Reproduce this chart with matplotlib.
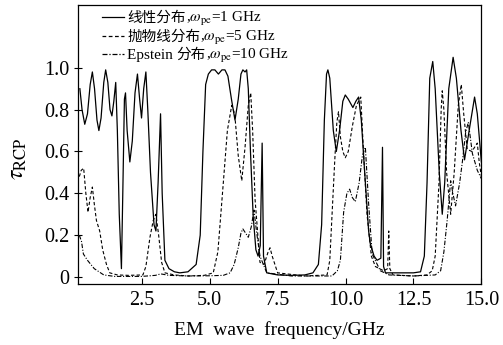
import matplotlib
matplotlib.use("Agg")
import matplotlib.pyplot as plt
from matplotlib.lines import Line2D
from matplotlib.offsetbox import (AnchoredOffsetbox, DrawingArea, HPacker,
                                  TextArea, VPacker)
from matplotlib.ticker import FixedLocator, FuncFormatter

plt.rcParams['font.family'] = ['Liberation Serif', 'Noto Sans CJK SC']
plt.rcParams['mathtext.fontset'] = 'stix'

# linear profile, w_pe = 1 GHz
lin_f = [0.22, 0.30, 0.40, 0.50, 0.60, 0.68, 0.76, 0.85, 0.92, 1.00, 1.10, 1.17,
         1.25, 1.33, 1.40, 1.47, 1.54, 1.60, 1.67, 1.75, 1.80, 1.86, 1.90, 1.96,
         2.06, 2.15, 2.25, 2.34, 2.42, 2.49, 2.57, 2.65, 2.72, 2.82, 2.95, 3.02,
         3.10, 3.19, 3.25, 3.35, 3.50, 3.70, 3.90, 4.20, 4.50, 4.65, 4.75, 4.85,
         4.95, 5.07, 5.19, 5.32, 5.45, 5.56, 5.67, 5.80, 5.93, 6.05, 6.15, 6.22,
         6.30, 6.36, 6.42, 6.50, 6.60, 6.70, 6.78, 6.86, 6.93, 6.98, 7.10, 7.50,
         8.00, 8.50, 8.80, 9.00, 9.12, 9.22, 9.30, 9.35, 9.42, 9.55, 9.66, 9.78,
         9.90, 9.99, 10.10, 10.27, 10.38, 10.48, 10.58, 10.73, 10.85, 10.91, 11.05,
         11.16, 11.30, 11.36, 11.40, 11.47, 12.00, 12.50, 12.76, 12.90, 13.00,
         13.10, 13.21, 13.30, 13.45, 13.56, 13.65, 13.80, 13.96, 14.08, 14.25,
         14.38, 14.55, 14.75, 14.85, 15.00]
lin_t = [0.90, 0.80, 0.73, 0.78, 0.92, 0.98, 0.90, 0.75, 0.70, 0.76, 0.93, 0.99,
         0.93, 0.80, 0.77, 0.84, 0.93, 0.70, 0.30, 0.04, 0.40, 0.85, 0.88, 0.70,
         0.55, 0.65, 0.88, 0.97, 0.85, 0.76, 0.90, 0.98, 0.80, 0.50, 0.25, 0.22,
         0.45, 0.78, 0.40, 0.08, 0.04, 0.025, 0.02, 0.025, 0.06, 0.20, 0.60, 0.92,
         0.97, 0.99, 0.99, 0.97, 0.99, 0.99, 0.96, 0.85, 0.75, 0.85, 0.97, 0.99,
         0.98, 0.99, 0.90, 0.60, 0.29, 0.13, 0.10, 0.15, 0.64, 0.10, 0.02, 0.01,
         0.008, 0.01, 0.02, 0.06, 0.25, 0.75, 0.97, 0.99, 0.95, 0.70, 0.60, 0.70,
         0.84, 0.87, 0.85, 0.81, 0.84, 0.86, 0.75, 0.45, 0.22, 0.16, 0.10,
         0.08, 0.09, 0.62, 0.05, 0.02, 0.02, 0.02, 0.025, 0.10, 0.45,
         0.95, 1.03, 0.90, 0.50, 0.30, 0.45, 0.90, 1.05, 0.95, 0.70,
         0.56, 0.70, 0.86, 0.78, 0.55]

# parabolic profile, w_pe = 5 GHz
par_f = [0.20, 0.27, 0.36, 0.44, 0.52, 0.60, 0.68, 0.75, 0.83, 0.95, 1.06, 1.20,
         1.32, 1.60, 2.00, 2.54, 2.65, 2.80, 2.92, 3.02, 3.12, 3.23, 3.35, 3.70,
         4.20, 4.80, 5.13, 5.30, 5.50, 5.65, 5.81, 5.92, 6.05, 6.18, 6.30, 6.42,
         6.51, 6.58, 6.67, 6.85, 7.00, 7.15, 7.22, 7.30, 7.50, 8.50, 9.32,
         9.42, 9.50, 9.60, 9.68, 9.74, 9.81, 9.90, 9.99, 10.10, 10.25, 10.40,
         10.48, 10.56, 10.66, 10.79, 10.95, 11.10, 11.40, 11.55, 11.59, 11.63,
         11.75, 12.50, 13.00, 13.19, 13.30, 13.44, 13.52, 13.56, 13.62, 13.72,
         13.87, 14.00, 14.15, 14.26, 14.35, 14.48, 14.65, 14.85, 14.92, 15.00]
par_t = [0.48, 0.51, 0.52, 0.40, 0.31, 0.38, 0.43, 0.35, 0.27, 0.22, 0.13, 0.06,
         0.02, 0.01, 0.008, 0.01, 0.05, 0.19, 0.27, 0.30, 0.20, 0.07, 0.02, 0.01,
         0.005, 0.008, 0.02, 0.12, 0.45, 0.70, 0.82, 0.78, 0.58, 0.46, 0.62, 0.82,
         0.88, 0.70, 0.37, 0.07, 0.06, 0.12, 0.14, 0.10, 0.02, 0.005, 0.01,
         0.08, 0.29, 0.55, 0.74, 0.79, 0.67, 0.60, 0.57, 0.60, 0.72, 0.82,
         0.84, 0.86, 0.60, 0.30, 0.10, 0.05, 0.03, 0.04, 0.22, 0.04,
         0.01, 0.005, 0.01, 0.03, 0.10, 0.45, 0.80, 0.89, 0.80, 0.50,
         0.30, 0.50, 0.82, 0.92, 0.78, 0.61, 0.60, 0.64, 0.55, 0.48]

# Epstein profile, w_pe = 10 GHz
eps_f = [0.20, 0.28, 0.35, 0.50, 0.75, 1.10, 1.50, 2.50, 3.00, 3.20, 3.50, 4.20,
         5.00, 5.50, 5.75, 5.90, 6.05, 6.15, 6.22, 6.32, 6.42, 6.53, 6.63, 6.72,
         6.85, 7.10, 8.00, 9.00, 9.50, 9.70, 9.81, 9.93, 10.05, 10.15, 10.25,
         10.36, 10.50, 10.62, 10.73, 10.85, 10.98, 11.28, 11.60, 12.50, 13.30,
         13.50, 13.62, 13.74, 13.87, 13.95, 14.05, 14.20, 14.30, 14.42, 14.52,
         14.67, 14.85, 15.00]
eps_t = [0.20, 0.17, 0.11, 0.08, 0.04, 0.01, 0.003, 0.003, 0.008, 0.015, 0.008,
         0.005, 0.006, 0.008, 0.02, 0.06, 0.14, 0.21, 0.23, 0.21, 0.19, 0.24,
         0.32, 0.22, 0.10, 0.02, 0.005, 0.005, 0.005, 0.03, 0.08, 0.31, 0.40,
         0.42, 0.38, 0.36, 0.45, 0.58, 0.62, 0.35, 0.11, 0.03, 0.01, 0.005,
         0.01, 0.03, 0.12, 0.27, 0.46, 0.40, 0.34, 0.45, 0.55, 0.69, 0.74,
         0.59, 0.51, 0.47]

xticks = [2.5, 5.0, 7.5, 10.0, 12.5, 15.0]
yticks = [0, 0.2, 0.4, 0.6, 0.8, 1.0]

fig = plt.figure(figsize=(5.03, 3.45), dpi=100)
ax = fig.add_axes([0.155, 0.177, 0.802, 0.8085])

ax.plot(lin_f, lin_t, color='black', lw=0.9, ls='-')
ax.plot(par_f, par_t, color='black', lw=0.8, ls=(0, (3, 2)))
ax.plot(eps_f, eps_t, color='black', lw=0.8, ls=(0, (4, 1.5, 1, 1.5)))

ax.set_xlim(0.15, 15.0)
ax.set_ylim(-0.033, 1.30)
ax.xaxis.set_major_locator(FixedLocator(xticks))
ax.yaxis.set_major_locator(FixedLocator(yticks))
ax.xaxis.set_major_formatter(FuncFormatter(lambda v, p: f'{v:.1f}'))
ax.yaxis.set_major_formatter(FuncFormatter(lambda v, p: '0' if v == 0 else f'{v:.1f}'))
ax.tick_params(axis='x', direction='in', length=4, width=0.8, labelsize=14.5, pad=5)
ax.tick_params(axis='y', direction='inout', length=6, width=0.8, labelsize=14.5, pad=3)
for s in ax.spines.values():
    s.set_linewidth(0.9)

ax.set_xlabel('EM  wave  frequency/GHz', fontsize=14, labelpad=8)
ax.set_ylabel(r'$\tau_{\mathrm{RCP}}$', fontsize=17)
ax.yaxis.set_label_coords(-0.122, 0.45)

# legend built by hand: Chinese and serif text side by side
cn = dict(fontsize=10.5, family=['Noto Sans CJK SC'])
rm = dict(fontsize=11, family=['Liberation Serif'])
rows = [
    ('-', [('线性分布', cn), (r',$\omega_{\mathrm{pe}}$=1 GHz', rm)]),
    ((0, (3, 2)), [('抛物线分布', cn), (r',$\omega_{\mathrm{pe}}$=5 GHz', rm)]),
    ((0, (4, 1.5, 1, 1.5)), [('Epstein ', rm), ('分布', cn), (r',$\omega_{\mathrm{pe}}$=10 GHz', rm)]),
]
packs = []
for ls, parts in rows:
    da = DrawingArea(16, 4, 0, 0)
    da.add_artist(Line2D([0, 16], [3.5, 3.5], color='black', lw=0.9, ls=ls))
    words = HPacker(children=[TextArea(t, textprops=p) for t, p in parts],
                    align='baseline', pad=0, sep=0)
    packs.append(HPacker(children=[da, words], align='baseline', pad=0, sep=2))
box = VPacker(children=packs, align='left', pad=0, sep=0.5)
anch = AnchoredOffsetbox(loc='upper left', child=box, frameon=False, pad=0,
                         borderpad=0, bbox_to_anchor=(102, 345 - 10),
                         bbox_transform=None)
ax.add_artist(anch)

fig.savefig('out.png', dpi=100)
